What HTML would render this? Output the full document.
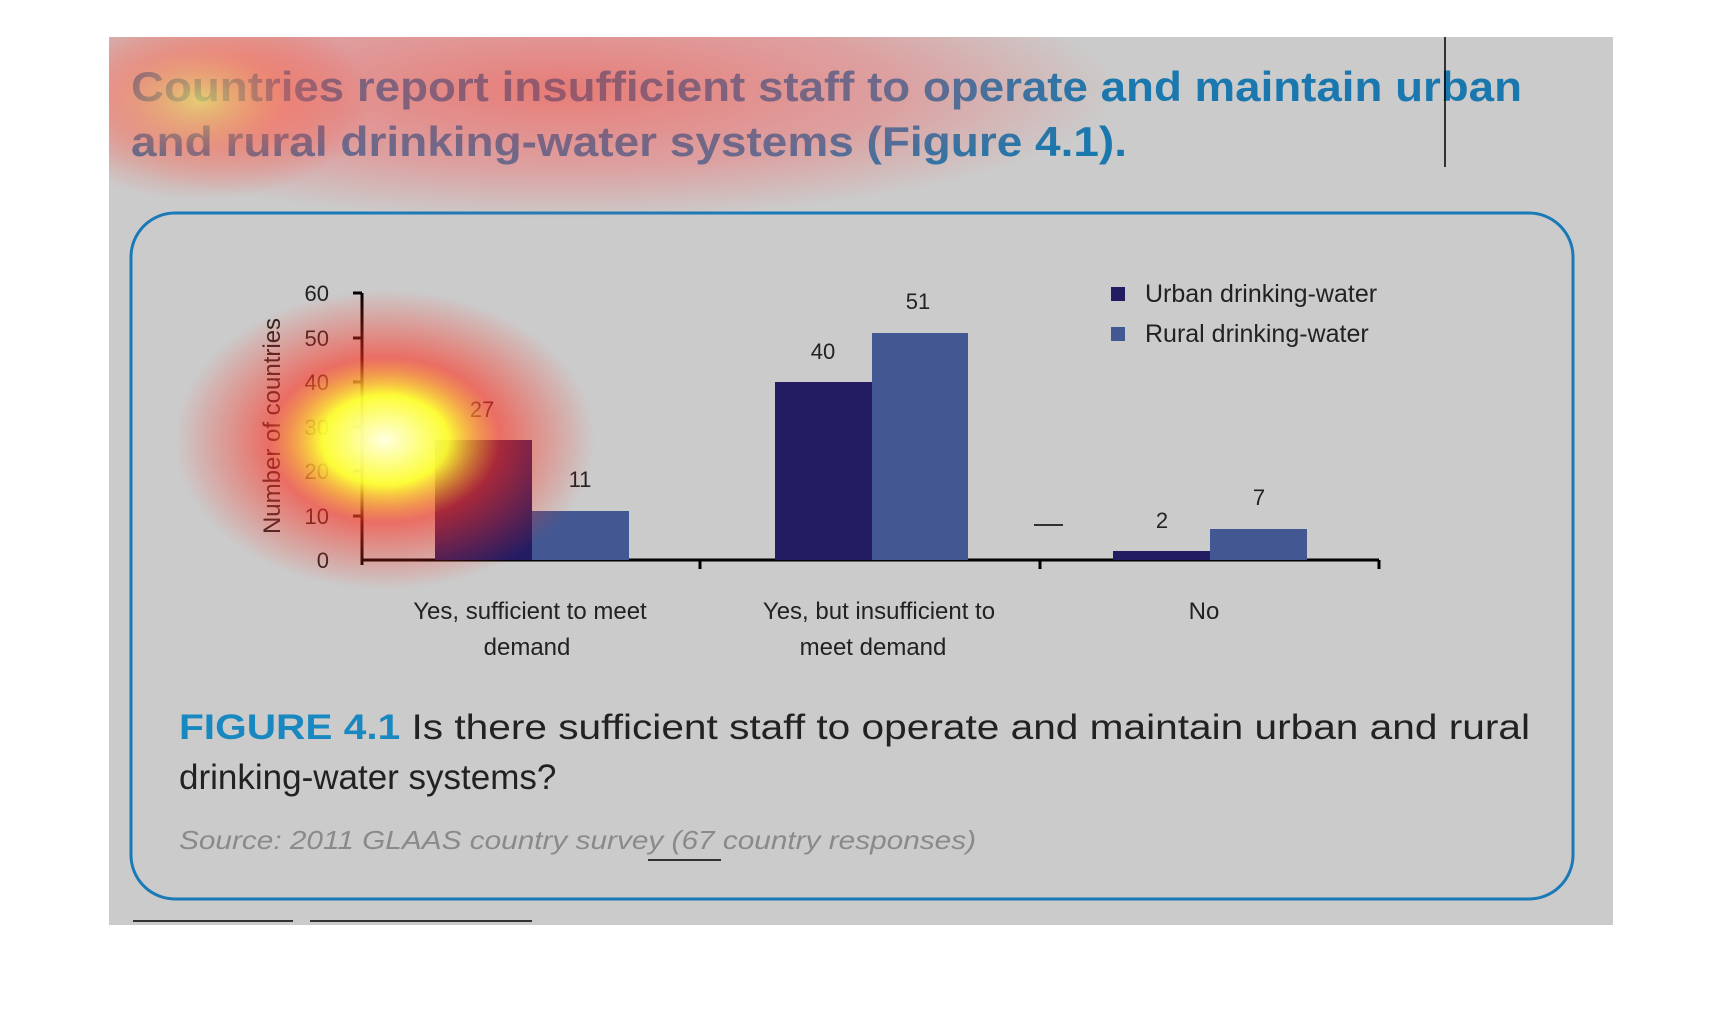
<!DOCTYPE html>
<html><head><meta charset="utf-8"><style>
html,body{margin:0;padding:0;background:#fff;}
svg{display:block;}
text{font-family:"Liberation Sans",sans-serif;}
</style></head><body>
<svg width="1714" height="1016" viewBox="0 0 1714 1016" xmlns="http://www.w3.org/2000/svg">
<defs>
<radialGradient id="hr" cx="0.5" cy="0.5" r="0.5">
<stop offset="0" stop-color="#ff3b30" stop-opacity="0.55"/>
<stop offset="0.6" stop-color="#ff5050" stop-opacity="0.35"/>
<stop offset="1" stop-color="#ff5050" stop-opacity="0"/>
</radialGradient>
<radialGradient id="hy" cx="0.5" cy="0.5" r="0.5">
<stop offset="0" stop-color="#ffffe0" stop-opacity="1"/>
<stop offset="0.3" stop-color="#ffff30" stop-opacity="0.95"/>
<stop offset="0.55" stop-color="#ff3020" stop-opacity="0.6"/>
<stop offset="1" stop-color="#ff3020" stop-opacity="0"/>
</radialGradient>
<radialGradient id="hy2" cx="0.5" cy="0.5" r="0.5">
<stop offset="0" stop-color="#e8e060" stop-opacity="0.7"/>
<stop offset="0.5" stop-color="#ff6040" stop-opacity="0.4"/>
<stop offset="1" stop-color="#ff3020" stop-opacity="0"/>
</radialGradient>
<clipPath id="gc"><rect x="109" y="37" width="1504" height="888"/></clipPath>
</defs>
<rect x="109" y="37" width="1504" height="888" fill="#cbcbcb"/>
<g font-weight="bold" font-size="42" fill="#1a78ae">
<text x="131" y="101" textLength="1391" lengthAdjust="spacingAndGlyphs">Countries report insufficient staff to operate and maintain urban</text>
<text x="131" y="156" textLength="996" lengthAdjust="spacingAndGlyphs">and rural drinking-water systems (Figure 4.1).</text>
</g>
<line x1="1445" y1="37" x2="1445" y2="167" stroke="#000" stroke-width="1.5"/>
<rect x="131" y="213" width="1442" height="686" rx="44" fill="none" stroke="#1a7ab8" stroke-width="3"/>
<g transform="translate(-3,-1)">
<g stroke="#000" stroke-width="3">
<line x1="365" y1="294" x2="365" y2="566"/>
<line x1="365" y1="561" x2="1382" y2="561"/>
<line x1="703" y1="561" x2="703" y2="570"/>
<line x1="1043" y1="561" x2="1043" y2="570"/>
<line x1="1382" y1="561" x2="1382" y2="570"/>
<line x1="356" y1="294" x2="365" y2="294"/>
<line x1="356" y1="339" x2="365" y2="339"/>
<line x1="356" y1="383" x2="365" y2="383"/>
<line x1="356" y1="428" x2="365" y2="428"/>
<line x1="356" y1="472" x2="365" y2="472"/>
<line x1="356" y1="517" x2="365" y2="517"/>
</g>
<g font-size="22" fill="#222" text-anchor="end">
<text x="332" y="302">60</text><text x="332" y="347">50</text><text x="332" y="391">40</text>
<text x="332" y="436">30</text><text x="332" y="480">20</text><text x="332" y="525">10</text><text x="332" y="569">0</text>
</g>
<text transform="translate(283,427) rotate(-90)" font-size="24" fill="#222" text-anchor="middle">Number of countries</text>
<rect x="438" y="441" width="97" height="120" fill="#231c63"/>
<rect x="535" y="512" width="97" height="49" fill="#435892"/>
<rect x="778" y="383" width="97" height="178" fill="#231c63"/>
<rect x="875" y="334" width="96" height="227" fill="#435892"/>
<rect x="1116" y="552" width="97" height="9" fill="#231c63"/>
<rect x="1213" y="530" width="97" height="31" fill="#435892"/>
<g font-size="22" fill="#222" text-anchor="middle">
<text x="485" y="418">27</text><text x="583" y="488">11</text>
<text x="826" y="360">40</text><text x="921" y="310">51</text>
<text x="1165" y="529">2</text><text x="1262" y="506">7</text>
</g>
<line x1="1037" y1="526" x2="1066" y2="526" stroke="#000" stroke-width="1.5"/>
<g font-size="24" fill="#222" text-anchor="middle">
<text x="533" y="620">Yes, sufficient to meet</text><text x="530" y="656">demand</text>
<text x="882" y="620">Yes, but insufficient to</text><text x="876" y="656">meet demand</text>
<text x="1207" y="620">No</text>
</g>
<rect x="1114" y="288" width="14" height="14" fill="#231c63"/>
<rect x="1114" y="328" width="14" height="14" fill="#435892"/>
<g font-size="25" fill="#222">
<text x="1148" y="303">Urban drinking-water</text>
<text x="1148" y="343">Rural drinking-water</text>
</g>
</g>
<text x="179" y="739" font-size="35" fill="#222" textLength="1351" lengthAdjust="spacingAndGlyphs"><tspan font-weight="bold" fill="#1a88c0">FIGURE 4.1</tspan> Is there sufficient staff to operate and maintain urban and rural</text>
<text x="179" y="789" font-size="35" fill="#222">drinking-water systems?</text>
<text x="179" y="849" font-size="26" font-style="italic" fill="#8a8a8a" textLength="797" lengthAdjust="spacingAndGlyphs">Source: 2011 GLAAS country survey (67 country responses)</text>
<line x1="648" y1="860" x2="721" y2="860" stroke="#000" stroke-width="1.5"/>
<line x1="133" y1="921" x2="293" y2="921" stroke="#000" stroke-width="1.5"/>
<line x1="310" y1="921" x2="532" y2="921" stroke="#000" stroke-width="1.5"/>
<g clip-path="url(#gc)">
<ellipse cx="560" cy="90" rx="560" ry="130" fill="url(#hr)"/>
<ellipse cx="200" cy="100" rx="170" ry="100" fill="url(#hy2)"/>
<ellipse cx="385" cy="440" rx="210" ry="150" fill="url(#hy)"/>
</g>
</svg>
</body></html>
